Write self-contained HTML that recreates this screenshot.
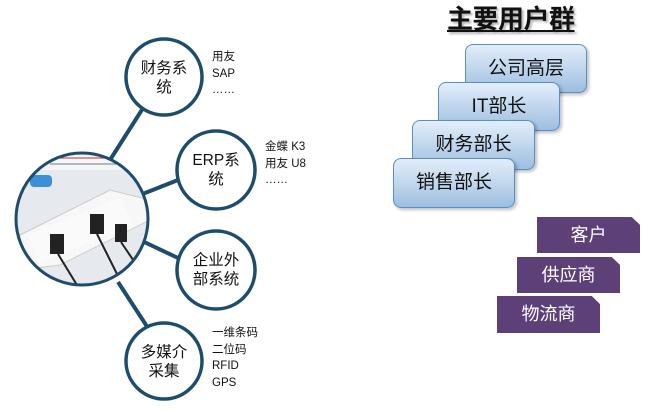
<!DOCTYPE html>
<html><head><meta charset="utf-8"><style>
body{margin:0;width:650px;height:411px;background:#fff;position:relative;overflow:hidden;font-family:"Liberation Sans","Noto Sans CJK SC",sans-serif;}
.a{position:absolute;}
.side{position:absolute;font-size:11.5px;line-height:16.5px;color:#111;}
.blue{position:absolute;width:120px;height:48px;border:1.5px solid #5b8fc4;border-radius:8px;background:linear-gradient(#e3eefa,#9dbfe0);box-shadow:2px 2px 3px rgba(0,0,0,.25);font-size:19px;color:#111;text-align:center;line-height:48px;box-sizing:border-box;}
.pur{position:absolute;width:103px;height:36px;background:#5e4079;color:#fff;font-size:18px;text-align:center;line-height:36px;clip-path:polygon(0 0,92% 0,100% 22%,100% 100%,0 100%);}
</style></head><body>
<svg class="a" style="left:0;top:0" width="650" height="411">
<g stroke="#1d4d6b" stroke-width="4" fill="none">
<line x1="110" y1="160" x2="145" y2="105"/>
<line x1="140" y1="195" x2="178" y2="180"/>
<line x1="140" y1="240" x2="178" y2="258"/>
<line x1="118" y1="282" x2="148" y2="328"/>
</g>
<defs><clipPath id="c"><circle cx="82" cy="219" r="66"/></clipPath></defs>
<g clip-path="url(#c)">
<rect x="0" y="140" width="170" height="160" fill="#e6eaee"/>
<rect x="10" y="150" width="150" height="20" fill="#f4f5f6"/>
<line x1="55" y1="158" x2="120" y2="158" stroke="#b33" stroke-width="1"/>
<line x1="50" y1="164" x2="125" y2="164" stroke="#778" stroke-width="1"/>
<rect x="30" y="175" width="22" height="12" rx="4" fill="#3d8fd8"/>
<polygon points="20,235 110,190 150,200 150,220 60,265 20,270" fill="#f7f7f7" stroke="#ccc"/>
<rect x="30" y="215" width="100" height="30" fill="#fafafa" transform="rotate(-22 80 230)"/>
<rect x="50" y="234" width="14" height="20" fill="#222"/>
<rect x="90" y="214" width="14" height="20" fill="#222"/>
<rect x="115" y="224" width="12" height="18" fill="#222"/>
<g stroke="#222" stroke-width="2" fill="none"><path d="M58 254 L80 290"/><path d="M97 234 L125 290"/><path d="M121 242 L150 285"/></g>
</g>
<circle cx="82" cy="219" r="66" fill="none" stroke="#1d4d6b" stroke-width="3"/>
<g stroke="#1d4d6b" stroke-width="3.5" fill="#fff">
<circle cx="164" cy="77" r="38"/>
<circle cx="216" cy="170" r="39"/>
<circle cx="216" cy="270" r="39"/>
<circle cx="164" cy="361" r="38"/>
</g>
<g font-family="Liberation Sans,Noto Sans CJK SC,sans-serif" font-size="15.5" fill="#111" text-anchor="middle">
<text x="164" y="73">财务系</text><text x="164" y="92">统</text>
<text x="216" y="165">ERP系</text><text x="216" y="184">统</text>
<text x="216" y="265">企业外</text><text x="216" y="284">部系统</text>
<text x="164" y="357">多媒介</text><text x="164" y="376">采集</text>
</g>
</svg>
<div class="side" style="left:212px;top:49px">用友<br>SAP<br>……</div>
<div class="side" style="left:265px;top:139px">金蝶 K3<br>用友 U8<br>……</div>
<div class="side" style="left:212px;top:325px">一维条码<br>二位码<br>RFID<br>GPS</div>
<div class="a" style="left:447px;top:3px;font-size:26px;font-weight:bold;color:#111;text-decoration:underline;text-shadow:2px 2px 2px rgba(0,0,0,.3);letter-spacing:-0.5px;line-height:32px;">主要用户群</div>
<div class="blue" style="left:465px;top:44px;width:122px;height:49px;">公司高层</div>
<div class="blue" style="left:438px;top:82px;width:122px;height:49px;">IT部长</div>
<div class="blue" style="left:412px;top:120px;width:123px;height:50px;">财务部长</div>
<div class="blue" style="left:393px;top:158px;width:122px;height:50px;">销售部长</div>
<div class="pur" style="left:537px;top:217px;">客户</div>
<div class="pur" style="left:517px;top:257px;">供应商</div>
<div class="pur" style="left:497px;top:296px;height:37px;">物流商</div>
</body></html>
